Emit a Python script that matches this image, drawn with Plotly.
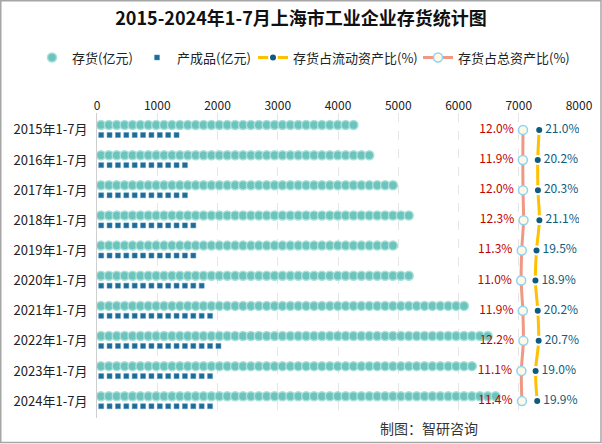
import numpy as np
import plotly.graph_objects as go

categories = ["2015年1-7月", "2016年1-7月", "2017年1-7月", "2018年1-7月", "2019年1-7月",
              "2020年1-7月", "2021年1-7月", "2022年1-7月", "2023年1-7月", "2024年1-7月"]
inventory = [4350, 4653, 4980, 5220, 4975, 5278, 6146, 6632, 6257, 6705]
finished_goods = [1439, 1477, 1588, 1627, 1600, 1864, 1959, 2070, 2003, 1970]
ratio_current = [21.0, 20.2, 20.3, 21.1, 19.5, 18.9, 20.2, 20.7, 19.0, 19.9]
ratio_total = [12.0, 11.9, 12.0, 12.3, 11.3, 11.0, 11.9, 12.2, 11.1, 11.4]
x_ticks = [0, 1000, 2000, 3000, 4000, 5000, 6000, 7000, 8000]

FONT = "Noto Sans CJK SC"
W, H = 602, 444
L, R, T, B = 97, 23, 113, 26
pw, ph = W - L - R, H - T - B


def px2x(px):
    return (px - L) / pw


def px2y(py):
    return (H - B - py) / ph


def repeat_symbols(values, step, offset, tail):
    xs, ys = [], []
    for i, v in enumerate(values):
        c = np.arange(step / 2, v - step * tail, step)
        xs.extend(c.tolist())
        ys.extend([i + offset] * len(c))
    return xs, ys


idx = list(range(len(categories)))
fig = go.Figure()

ix, iy = repeat_symbols(inventory, 131, -0.16, 0.15)
fig.add_trace(go.Scatter(
    x=ix, y=iy, mode="markers", name="存货(亿元)", legend="legend",
    marker=dict(symbol="circle", size=9, color="#6cc4bc",
                line=dict(color="#a9e0da", width=1.5)),
    hoverinfo="skip"))

fx, fy = repeat_symbols(finished_goods, 139, 0.17, 0.0)
fig.add_trace(go.Scatter(
    x=fx, y=fy, mode="markers", name="产成品(亿元)", legend="legend2",
    marker=dict(symbol="square", size=5, color="#1f6a96",
                line=dict(color="#4f97bf", width=0.5)),
    hoverinfo="skip"))

fig.add_trace(go.Scatter(
    x=ratio_current, y=idx, mode="lines+markers+text", name="存货占流动资产比(%)",
    legend="legend3",
    xaxis="x2", line=dict(color="#ffc000", width=3, shape="spline"),
    marker=dict(symbol="circle", size=8, color="#0d5b7e", line=dict(color="white", width=2)),
    text=[f"{v:.1f}%" for v in ratio_current], textposition="middle right",
    textfont=dict(family=FONT, size=12, color="#0e5c80")))

fig.add_trace(go.Scatter(
    x=ratio_total, y=idx, mode="lines+markers+text", name="存货占总资产比(%)",
    legend="legend4",
    xaxis="x2", line=dict(color="#ef9985", width=3, shape="spline"),
    marker=dict(symbol="circle", size=9, color="#fdf9e6", line=dict(color="#8fd3f2", width=1.5)),
    text=[f"{v:.1f}% " for v in ratio_total], textposition="middle left",
    textfont=dict(family=FONT, size=12, color="#c00000")))

# secondary axis: 0% at ~501px, 1.8 px per percent
zero_px, ppp = 501.4, 1.8
x2_range = [(L - zero_px) / ppp, (W - R - zero_px) / ppp]

legend_common = dict(orientation="h", xref="container", xanchor="left",
                     yref="container", y=1 - 57.5 / H, yanchor="middle",
                     font=dict(family=FONT, size=13, color="#222"),
                     itemwidth=30, bgcolor="rgba(0,0,0,0)")
# text start positions (px) of the four legend entries
legend_text_px = [72, 177, 293, 458]

fig.update_layout(
    width=W, height=H,
    margin=dict(l=L, r=R, t=T, b=B, autoexpand=False),
    paper_bgcolor="white", plot_bgcolor="white",
    font=dict(family=FONT, size=12, color="#222"),
    title=dict(text="<b>2015-2024年1-7月上海市工业企业存货统计图</b>",
               x=0.5, xref="container", xanchor="center",
               y=1 - 19 / H, yanchor="middle",
               font=dict(family=FONT, size=18, color="#111")),
    showlegend=True,
    legend=dict(x=(legend_text_px[0] - 40) / W, **legend_common),
    legend2=dict(x=(legend_text_px[1] - 40) / W, **legend_common),
    legend3=dict(x=(legend_text_px[2] - 40) / W, **legend_common),
    legend4=dict(x=(legend_text_px[3] - 40) / W, **legend_common),
    xaxis=dict(side="top", range=[0, 8000], tickvals=x_ticks,
               ticktext=[str(v) for v in x_ticks], showgrid=True,
               gridcolor="#e6e6e6", griddash="dash", zeroline=False,
               showline=False, ticks="", tickfont=dict(family=FONT, size=12, color="#222")),
    xaxis2=dict(overlaying="x", side="top", range=x2_range, visible=False),
    yaxis=dict(range=[len(categories) - 0.44, -0.56], tickvals=idx, ticktext=categories,
               showgrid=False, zeroline=False, showline=True, linecolor="#cfcfcf",
               linewidth=1, ticks="", ticklabelstandoff=6,
               tickfont=dict(family=FONT, size=13, color="#222")),
    shapes=[dict(type="rect", xref="paper", yref="paper",
                 x0=px2x(0.75), x1=px2x(601), y0=px2y(0.75), y1=px2y(442.5),
                 line=dict(color="#a6a6a6", width=1.5), fillcolor="rgba(0,0,0,0)",
                 layer="below")],
    annotations=[dict(text="制图：智研咨询", xref="paper", yref="paper",
                      x=px2x(429), y=px2y(428), xanchor="center", yanchor="middle",
                      showarrow=False, font=dict(family=FONT, size=14, color="#333"))],
)

fig.write_html("out.html", config={"displayModeBar": False},
               post_script="document.body.style.margin='0px';")
